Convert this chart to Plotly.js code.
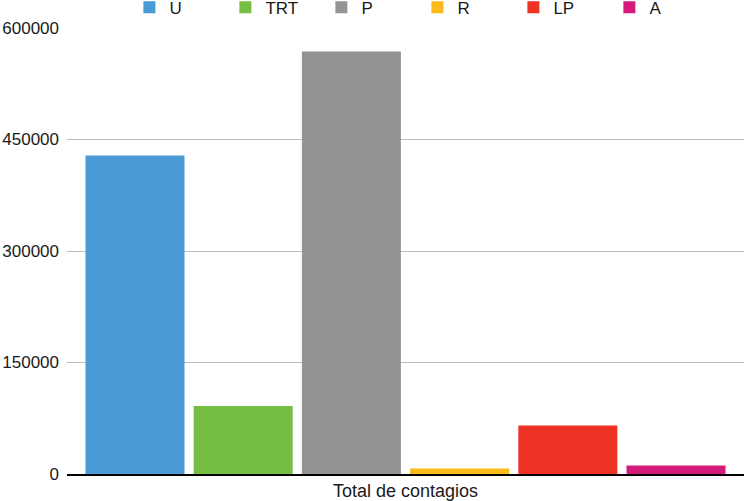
<!DOCTYPE html>
<html>
<head>
<meta charset="utf-8">
<script src="https://cdn.plot.ly/plotly-3.0.1.min.js"></script>
<style>html,body{margin:0;padding:0;background:#fff;}#chart{width:744px;height:501px;}</style>
</head>
<body>
<div id="chart"></div>
<script>
const category = ['Total de contagios'];
const seriesNames = ['U', 'TRT', 'P', 'R', 'LP', 'A'];
const seriesValues = [428500, 91400, 568300, 7400, 65400, 11500];
const seriesColors = ['#4A9BD5', '#76BE43', '#949494', '#FBB91A', '#EE3224', '#D41B7A'];
const yTicks = [0, 150000, 300000, 450000, 600000];

const traces = seriesNames.map((name, i) => ({
  type: 'bar',
  name: name,
  x: category,
  y: [seriesValues[i]],
  marker: { color: seriesColors[i], line: { width: 0 } },
  hoverinfo: 'name+y'
}));

const layout = {
  width: 744,
  height: 501,
  margin: { l: 67, r: 0, t: 28, b: 27, autoexpand: false },
  paper_bgcolor: '#ffffff',
  plot_bgcolor: '#ffffff',
  font: { family: 'Liberation Sans, Arial, sans-serif', size: 17, color: '#1a1a1a' },
  barmode: 'group',
  bargap: 0.041,
  bargroupgap: 0.085,
  showlegend: true,
  legend: {
    orientation: 'h',
    xref: 'container', yref: 'paper',
    x: 0.561, xanchor: 'center',
    y: 1.086, yanchor: 'top',
    font: { size: 17, color: '#1a1a1a' },
    entrywidth: 51, entrywidthmode: 'pixels',
    itemwidth: 30,
    traceorder: 'normal',
    bgcolor: 'rgba(0,0,0,0)'
  },
  xaxis: {
    type: 'category',
    showline: true, linecolor: '#000000', linewidth: 1.5,
    ticks: '', showgrid: false, zeroline: false,
    tickfont: { size: 18, color: '#1a1a1a' }
  },
  yaxis: {
    range: [0, 600000],
    tickvals: yTicks,
    tickformat: 'd',
    showgrid: true, gridcolor: '#bcbcbc', gridwidth: 1,
    zeroline: false, showline: false, ticks: '',
    ticklabelstandoff: 7,
    tickfont: { size: 17, color: '#1a1a1a' }
  }
};

Plotly.newPlot('chart', traces, layout, { displayModeBar: false, responsive: false });
</script>
</body>
</html>
